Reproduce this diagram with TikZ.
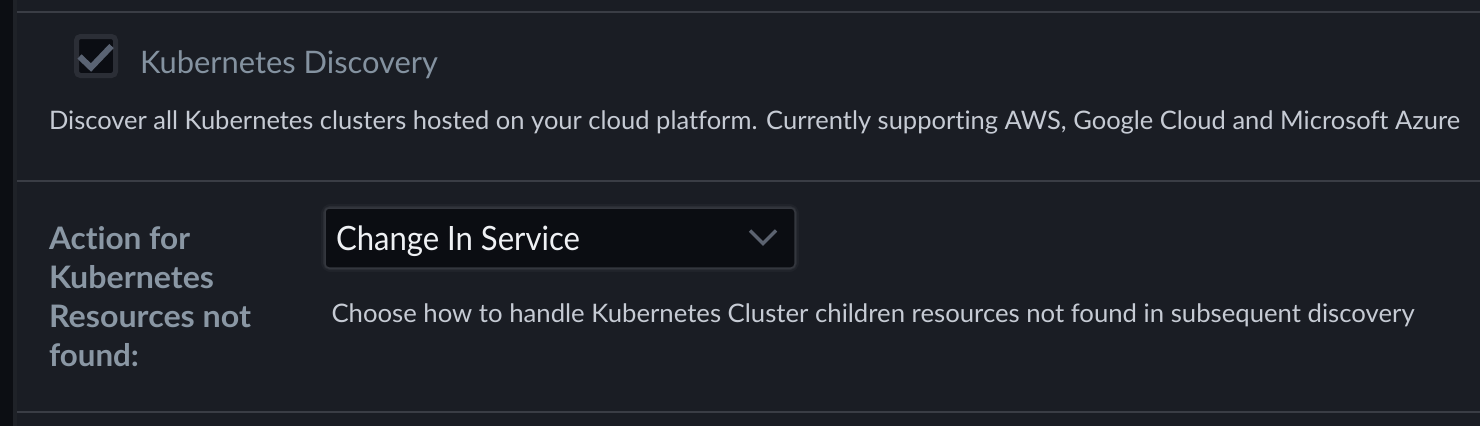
\documentclass[tikz,border=0pt]{standalone}
\usepackage{fontspec}
\usepackage{graphicx}
\setmainfont{Lato}[Ligatures=NoCommon]
\newfontfamily\latobold{Lato}[UprightFont=* Bold, Ligatures=NoCommon]
\definecolor{bgc}{HTML}{1A1D24}
\definecolor{stripc}{HTML}{0C0E13}
\definecolor{stripedge}{HTML}{1F2228}
\definecolor{rulec}{HTML}{3A3D45}
\definecolor{headc}{HTML}{8492A0}
\definecolor{descc}{HTML}{C6CBD4}
\definecolor{labelc}{HTML}{8A97A4}
\definecolor{ddfill}{HTML}{0B0D12}
\definecolor{ddedge}{HTML}{34373E}
\definecolor{ddtext}{HTML}{EFF1F4}
\definecolor{chevc}{HTML}{5C6370}
\definecolor{cbedge}{HTML}{2B2E36}
\definecolor{cbfill}{HTML}{0B0D13}
\definecolor{checkc}{HTML}{5A6373}
\newlength\fitlen
\newcommand\fitx[2]{\settowidth\fitlen{#2}\pgfmathsetmacro\fitratio{#1/\fitlen}\scalebox{\fitratio}[1]{#2}}
\tikzset{
  txt/.style={anchor=base west, inner sep=0pt, outer sep=0pt},
  headtxt/.style={txt, text=headc, font=\fontsize{31}{31}\selectfont},
  desctxt/.style={txt, text=descc, font=\fontsize{25.5}{25.5}\selectfont},
  labeltxt/.style={txt, text=labelc, font=\latobold\fontsize{31}{31}\selectfont},
  ddtxt/.style={txt, text=ddtext, font=\fontsize{33.5}{33.5}\selectfont},
  cbox/.style={draw=cbedge, fill=cbfill, line width=5pt, rounded corners=4pt,
    minimum width=39pt, minimum height=39pt, inner sep=0pt},
  ddbox/.style={fill=ddfill, rounded corners=4pt, minimum width=470pt,
    minimum height=60pt, inner sep=0pt},
  checkline/.style={draw=checkc, line width=6pt, line join=miter},
  chevline/.style={draw=chevc, line width=3.5pt, line join=miter},
}
\begin{document}
\begin{tikzpicture}[x=1pt,y=-1pt]
\useasboundingbox (0,0) rectangle (1480,426);
\fill[bgc] (0,0) rectangle (1480,426);
\fill[stripc] (0,0) rectangle (13,426);
\fill[stripedge] (13,0) rectangle (17,426);
\fill[rulec] (17,11) rectangle (1480,13);
\fill[rulec] (17,180) rectangle (1480,182);
\fill[rulec] (17,411) rectangle (1480,413);
% checkbox
\node[cbox] (cb) at (96,56) {};
\draw[checkline] (79.5,56.5) -- (91,67.5) -- (111.5,46);
\node[headtxt] (title) at (140,73) {\fitx{298}{Kubernetes Discovery}};
\node[desctxt] (desc) at (49,129) {\fitx{1411}{Discover all Kubernetes clusters hosted on your cloud platform. Currently supporting AWS, Google Cloud and Microsoft Azure}};
% label
\node[labeltxt] (l1) at (49,249) {\fitx{141}{Action for}};
\node[labeltxt] (l2) at (49,288) {\fitx{165}{Kubernetes}};
\node[labeltxt] (l3) at (49,327) {\fitx{202}{Resources not}};
\node[labeltxt] (l4) at (49,366) {\fitx{90}{found:}};
% dropdown with glow
\draw[ddedge, opacity=0.25, line width=8pt, rounded corners=6pt] (325,208) rectangle (795,268);
\draw[ddedge, opacity=0.5, line width=4pt, rounded corners=5pt] (325,208) rectangle (795,268);
\node[ddbox, draw=ddedge, line width=1.5pt] (dd) at (560,238) {};
\node[ddtxt] (ddt) at (336,250) {\fitx{244}{Change In Service}};
\draw[chevline] (750,230.5) -- (763,243.5) -- (776,230.5);
\node[desctxt] (help) at (331.5,322) {\fitx{1083}{Choose how to handle Kubernetes Cluster children resources not found in subsequent discovery}};
\end{tikzpicture}
\end{document}
